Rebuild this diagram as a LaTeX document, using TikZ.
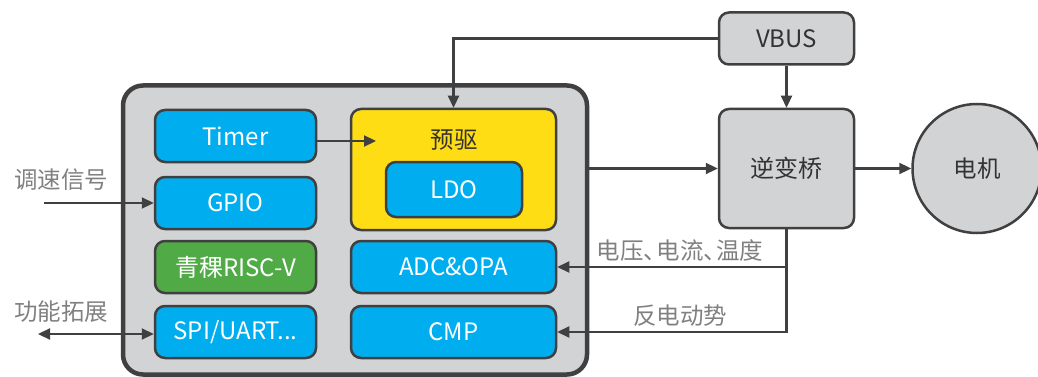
\documentclass[tikz,border=0pt]{standalone}
\usepackage{fontspec}
\setmainfont{Noto Sans CJK SC}
\usepackage{xcolor}
\usetikzlibrary{arrows.meta, positioning}
\definecolor{chipbg}{HTML}{D2D3D5}
\definecolor{edgecol}{HTML}{404040}
\definecolor{blockblue}{HTML}{00AEEF}
\definecolor{blockgreen}{HTML}{50AA46}
\definecolor{blockyellow}{HTML}{FFDD15}
\definecolor{labelgrey}{HTML}{808080}
\definecolor{textdark}{HTML}{333333}

\begin{document}
\begin{tikzpicture}[x=1pt, y=-1pt,
    box/.style={rectangle, rounded corners=10pt, draw=edgecol, line width=2.5pt, minimum width=161pt, minimum height=52pt, align=center, font=\fontsize{24}{28}\selectfont, text=white},
    graybox/.style={box, fill=chipbg, text=textdark, minimum width=135pt},
    lbl/.style={font=\fontsize{23.5}{27}\selectfont, text=labelgrey},
    arrow/.style={-{Triangle[length=12pt, width=11pt]}, line width=2.2pt, draw=edgecol}
]
\useasboundingbox (0,0) rectangle (1038,377);

% chip
\node[rectangle, rounded corners=20pt, draw=edgecol, line width=4.5pt, fill=chipbg, minimum width=464pt, minimum height=289pt] (chip) at (355,230) {};

\node[box, fill=blockblue] (timer) at (235.5,136) {Timer};
\node[box, fill=blockblue] (gpio) at (235.5,203) {GPIO};
\node[box, fill=blockgreen] (riscv) at (235.5,267) {青稞RISC-V};
\node[box, fill=blockblue] (spi) at (235.5,332) {SPI/UART...};

\node[box, fill=blockyellow, minimum width=205pt, minimum height=121pt] (predrv) at (453.5,169.5) {};
\node[font=\fontsize{23.5}{27}\selectfont, text=textdark] (predrvtext) at (454,140) {预驱};
\node[box, fill=blockblue, minimum width=136pt, minimum height=55pt] (ldo) at (454,189.5) {LDO};
\node[box, fill=blockblue, minimum width=205pt] (adc) at (453.5,267) {ADC\&OPA};
\node[box, fill=blockblue, minimum width=205pt] (cmp) at (453.5,332) {CMP};

% power stage
\node[graybox] (vbus) at (786.5,38.5) {VBUS};
\node[graybox, minimum height=119pt] (inverter) at (786.5,168.5) {逆变桥};
\node[circle, draw=edgecol, line width=2.5pt, fill=chipbg, minimum size=129pt, font=\fontsize{23.5}{27}\selectfont, text=textdark] (motor) at (977,168.5) {电机};

% outside labels
\node[lbl] (speedlbl) at (61,180) {调速信号};
\node[lbl] (extlbl) at (61,312) {功能拓展};
\node[lbl] (fblbl) at (680,251) {电压、\kern-0.45em电流、\kern-0.45em温度};
\node[lbl] (bemflbl) at (680,316) {反电动势};

\coordinate (speedin) at (44,203);
\coordinate (extout) at (38,334);
\coordinate (drvin) at (376,141);

\draw[arrow] (speedin) -- (gpio.west |- speedin);
\draw[{Triangle[length=12pt, width=11pt]}-{Triangle[length=12pt, width=11pt]}, line width=2.2pt, draw=edgecol] (extout) -- (spi.west |- extout);
\draw[arrow] (timer.east |- drvin) -- (drvin);
\draw[arrow] (vbus.west) -| (predrv.north);
\draw[arrow] (vbus.south) -- (inverter.north);
\draw[arrow] (chip.east |- inverter.west) -- (inverter.west);
\draw[arrow] (inverter.east) -- (motor.west);
\draw[arrow] (inverter.south) |- (cmp.east);
\draw[arrow] (inverter.south |- adc.east) -- (adc.east);

\end{tikzpicture}
\end{document}
